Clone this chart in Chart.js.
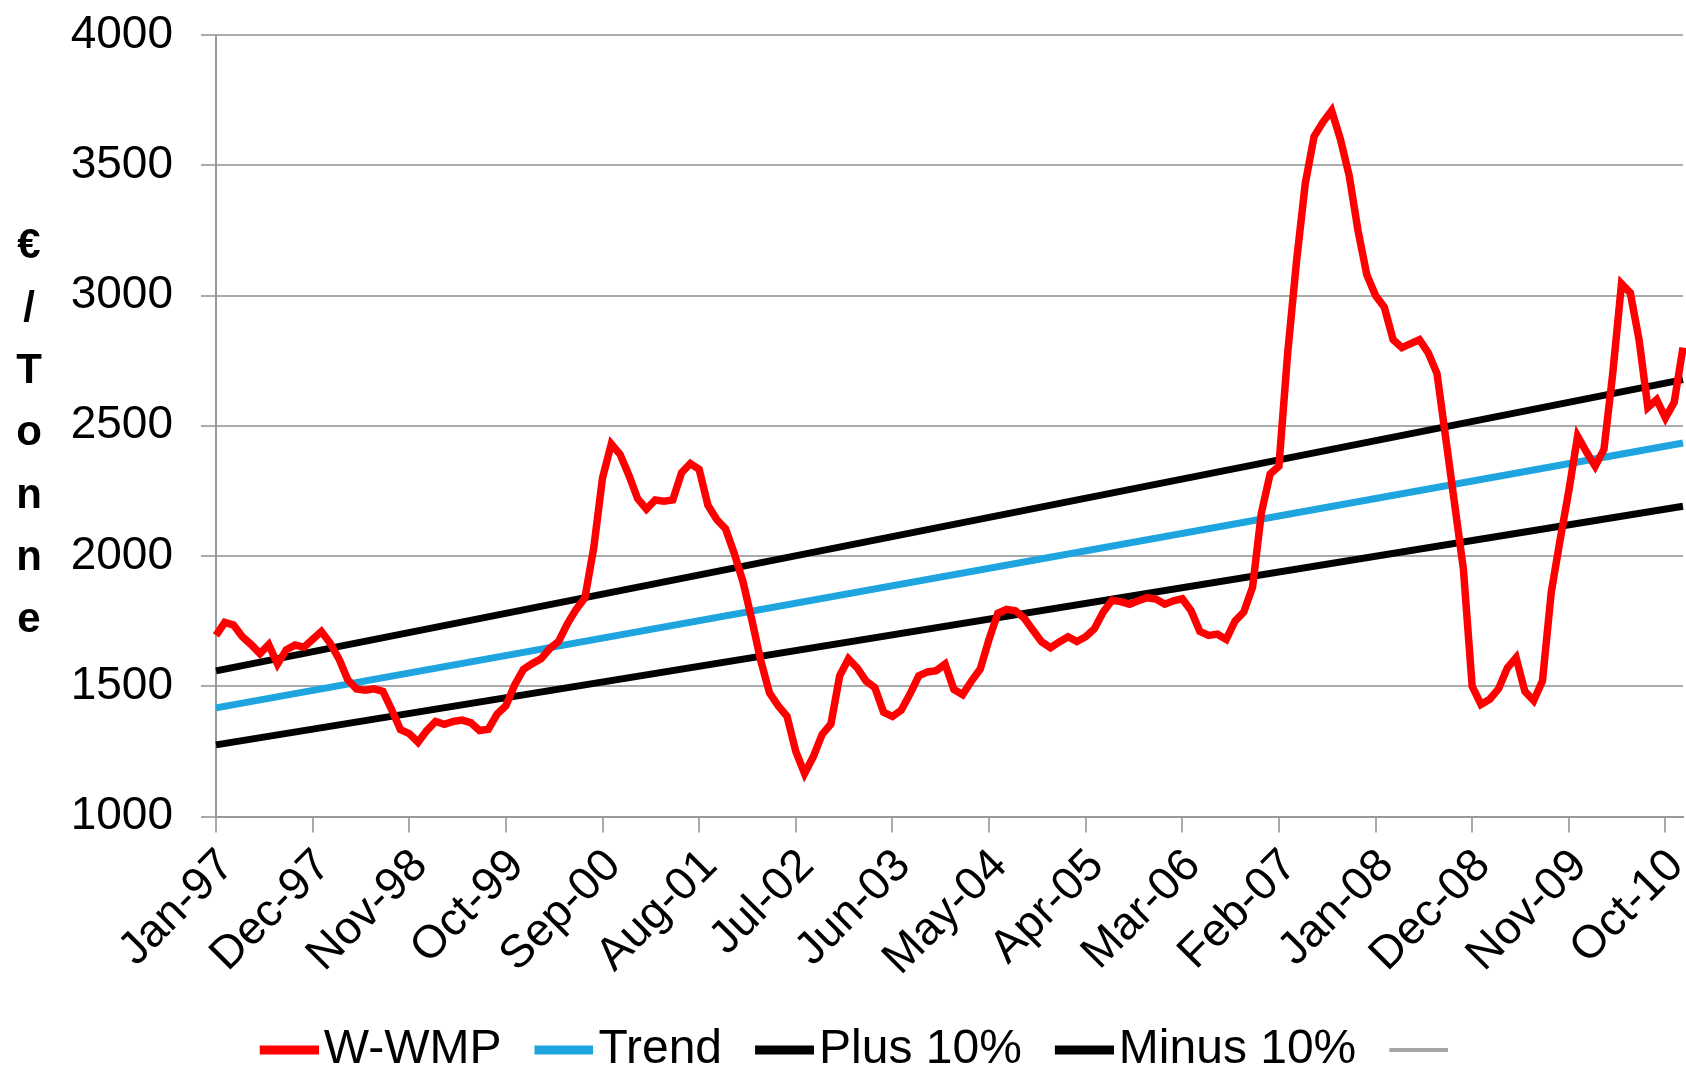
<!DOCTYPE html>
<html>
<head>
<meta charset="utf-8">
<script src="https://cdn.jsdelivr.net/npm/chart.js@4.4.1/dist/chart.umd.min.js"></script>
<style>
html,body{margin:0;padding:0;background:#fff;}
#wrap{width:1686px;height:1075px;}
</style>
</head>
<body>
<div id="wrap"><canvas id="myChart"></canvas></div>
<script>
const monthNames=["Jan","Feb","Mar","Apr","May","Jun","Jul","Aug","Sep","Oct","Nov","Dec"];
const startYear=1997;
const tickEvery=11;

// W-WMP price, monthly from Jan-97 to Dec-10
const wwmp=[
1695,1745,1735,1690,1660,1625,1660,1585,1640,1658,1650,1680,
1710,1665,1605,1525,1490,1485,1490,1480,1410,1333,1318,1285,
1330,1365,1354,1365,1370,1360,1330,1335,1393,1425,1505,1565,
1587,1605,1645,1672,1740,1795,1840,2031,2300,2430,2390,2310,
2220,2180,2215,2210,2215,2320,2355,2333,2195,2140,2105,2010,
1900,1755,1600,1475,1425,1385,1250,1165,1230,1315,1355,1540,
1605,1570,1520,1495,1400,1384,1408,1470,1540,1555,1560,1585,
1488,1468,1520,1566,1680,1780,1795,1790,1762,1715,1670,1648,
1670,1690,1672,1690,1721,1785,1830,1825,1815,1828,1840,1835,
1815,1828,1836,1790,1710,1695,1700,1680,1750,1785,1880,2165,
2315,2345,2780,3130,3430,3610,3665,3710,3600,3460,3250,3080,
3000,2955,2830,2800,2815,2830,2780,2700,2450,2200,1950,1500,
1430,1450,1490,1570,1610,1480,1445,1520,1860,2060,2250,2460,
2400,2345,2409,2700,3045,3010,2830,2570,2600,2530,2590,2800
];

// straight lines: value at first and last month
const trendEnds=[1417,2434];
const plusEnds=[1559,2677];
const minusEnds=[1275,2191];

const yMin=1000, yMax=4000, yStep=500;
const yTitle=["€","/","T","o","n","n","e"];

const fontFam='"Liberation Sans", Arial, sans-serif';
const gridGrey="#ababab";

let months=[];
for(let i=0;i<wwmp.length;i++){
    let yy=String((startYear+Math.floor(i/12))%100).padStart(2,"0");
    months.push(monthNames[i%12]+"-"+yy);
}

function ends(pair){
    let arr=new Array(wwmp.length).fill(null);
    arr[0]=pair[0];
    arr[arr.length-1]=pair[1];
    return arr;
}

// legend marker: short thick line sitting close to its text
function marker(color,thick){
    const c=document.createElement("canvas");
    c.width=78;
    c.height=14;
    const g=c.getContext("2d");
    g.fillStyle=color;
    g.fillRect(19,(14-thick)/2,59,thick);
    return c;
}

const yTitlePlugin={
    id:"yTitle",
    afterDraw(chart){
        const ctx=chart.ctx;
        const area=chart.chartArea;
        const step=62.3;
        const mid=(area.top+area.bottom)/2+8;
        ctx.save();
        ctx.font="bold 42px "+fontFam;
        ctx.fillStyle="#000";
        ctx.textAlign="center";
        ctx.textBaseline="middle";
        yTitle.forEach((ch,i)=>{
            ctx.fillText(ch,29,mid+(i-(yTitle.length-1)/2)*step);
        });
        ctx.restore();
    }
};

let lineChart=new Chart("myChart",{
    type:"line",
    data:{
        labels:months,
        datasets:[
            {label:"W-WMP",data:wwmp,borderColor:"#ff0000",backgroundColor:"#ff0000",borderWidth:7.5,pointStyle:marker("#ff0000",9)},
            {label:"Trend",data:ends(trendEnds),borderColor:"#1ea5e0",backgroundColor:"#1ea5e0",borderWidth:7,spanGaps:true,pointStyle:marker("#1ea5e0",9)},
            {label:"Plus 10%",data:ends(plusEnds),borderColor:"#000",backgroundColor:"#000",borderWidth:7,spanGaps:true,pointStyle:marker("#000",9)},
            {label:"Minus 10%",data:ends(minusEnds),borderColor:"#000",backgroundColor:"#000",borderWidth:7,spanGaps:true,pointStyle:marker("#000",9)},
            {label:"",data:[],borderColor:"#a6a6a6",backgroundColor:"#a6a6a6",borderWidth:4,pointStyle:marker("#a6a6a6",4)}
        ]
    },
    options:{
        responsive:true,
        maintainAspectRatio:false,
        animation:false,
        layout:{padding:{top:35,right:3,left:30,bottom:-9}},
        elements:{point:{radius:0},line:{tension:0}},
        plugins:{
            tooltip:{enabled:false},
            legend:{
                position:"bottom",
                labels:{
                    usePointStyle:true,
                    pointStyleWidth:40,
                    padding:33,
                    color:"#000",
                    font:{size:48,family:fontFam}
                }
            }
        },
        scales:{
            x:{
                afterFit:(scale)=>{scale.paddingRight=0},
                grid:{
                    drawOnChartArea:false,
                    tickLength:16,
                    lineWidth:2,
                    color:gridGrey
                },
                border:{color:"#999",width:2},
                ticks:{
                    autoSkip:false,
                    maxRotation:45,
                    minRotation:45,
                    padding:6.5,
                    labelOffset:11,
                    color:"#000",
                    font:{size:46,family:fontFam},
                    callback:function(value,index){
                        return index%tickEvery===0?this.getLabelForValue(value):null;
                    }
                }
            },
            y:{
                min:yMin,
                max:yMax,
                afterFit:(scale)=>{scale.width=186;scale.paddingTop=0;scale.paddingBottom=0},
                grid:{color:gridGrey,lineWidth:2,tickLength:15},
                border:{color:"#999",width:2},
                ticks:{
                    stepSize:yStep,
                    padding:28,
                    color:"#000",
                    font:{size:46,family:fontFam},
                    callback:(v)=>String(v)
                }
            }
        }
    },
    plugins:[yTitlePlugin]
});
</script>
</body>
</html>
